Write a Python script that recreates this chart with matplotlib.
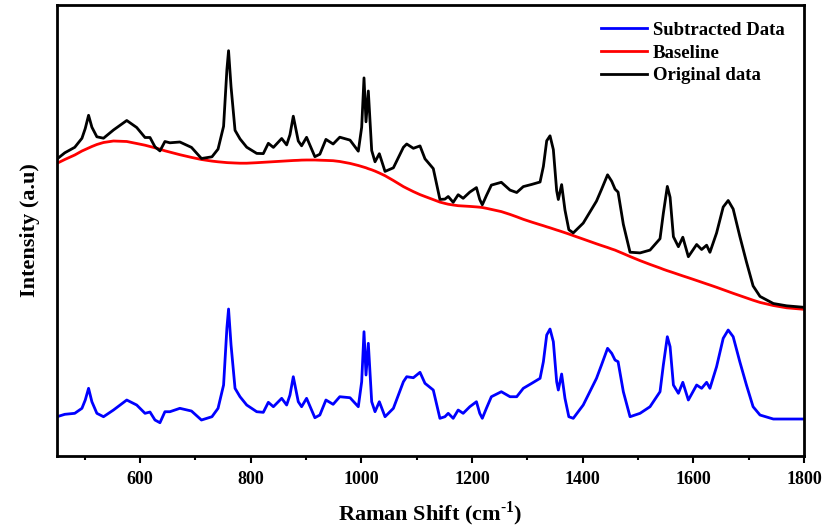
import matplotlib
matplotlib.use("Agg")
import matplotlib.pyplot as plt
from matplotlib.ticker import MultipleLocator
import numpy as np

plt.rcParams['font.family'] = ['Liberation Serif', 'DejaVu Serif']
plt.rcParams['font.weight'] = 'bold'
plt.rcParams['mathtext.fontset'] = 'custom'
plt.rcParams['mathtext.rm'] = 'Liberation Serif:bold'
plt.rcParams['mathtext.bf'] = 'Liberation Serif:bold'

# Raman shift (cm-1) sampled along the spectrum
shift = [450, 464, 482, 495, 501, 507, 513, 522, 534, 552, 576, 594, 609, 618,
         627, 636, 645, 654, 672, 693, 711, 730, 741, 751, 757, 760, 764.5,
         771.7, 780.7, 792.8, 810.9, 822.8, 831.9, 841, 856, 865, 871, 877,
         886, 892, 901, 916, 925, 936, 949, 961, 979.5, 994.5, 1000.6, 1004.8,
         1008.4, 1012.6, 1018.7, 1024.7, 1032.5, 1042.8, 1057.9, 1076, 1082,
         1094, 1106, 1115, 1130, 1142, 1151, 1157, 1166, 1175, 1184, 1196,
         1208, 1214, 1218.6, 1226, 1235, 1253, 1268.7, 1280.8, 1292.7, 1308,
         1323, 1329, 1335, 1341, 1347, 1353, 1356, 1362, 1368, 1375, 1383,
         1401, 1425, 1434, 1445, 1452.5, 1458.5, 1464, 1473.5, 1485.6, 1503.7,
         1521.7, 1539.8, 1545.8, 1553, 1558, 1564, 1573, 1581, 1591, 1606,
         1615, 1624, 1630, 1642, 1654, 1663, 1672, 1684, 1696, 1708, 1720.5,
         1744.6, 1768.7, 1800]

# baseline-subtracted intensity (a.u.)
subtracted = [39.3, 41.7, 42.7, 47.7, 56, 67.7, 54.3, 42.7, 39.3, 46, 56, 51,
              42.7, 44, 36, 33.3, 44.3, 44.3, 47.7, 45, 36, 39.3, 47.7, 71,
              128, 147, 111, 67.7, 59.3, 51, 44.3, 43.7, 53.7, 49.3, 57.7, 51,
              61, 79.3, 54.3, 49.3, 57.7, 38.3, 41, 56, 51.7, 59.3, 58.3, 49.3,
              74.3, 124.3, 81, 112.7, 54.3, 44.3, 54.3, 39.3, 47.7, 74.3, 79.3,
              78.3, 83.7, 72.7, 66, 37.7, 39.3, 42.7, 37.7, 46, 42.7, 49.3,
              54.3, 42.7, 37.7, 47.7, 59.3, 64.3, 59.3, 59.3, 67.7, 72.7, 77.7,
              94.3, 121, 127, 114.3, 74.3, 66, 82, 57.7, 39.3, 37.7, 51, 77.7,
              91, 107.7, 102.7, 96, 94.3, 64.3, 39.3, 42.7, 49.3, 64.3, 91,
              119.3, 109.3, 71, 62.7, 73.7, 56, 71, 67.7, 73.7, 67.7, 89.3,
              117.7, 126, 119.3, 94.3, 71, 49.3, 41, 37, 37, 37]

# fitted baseline (a.u.)
baseline = [292.7, 296.5, 301, 305, 306.5, 308, 309.5, 311.5, 313.5, 315,
            314.5, 312.5, 310.8, 309.5, 308.2, 306.8, 305.2, 303.9, 301.3,
            298.6, 296.5, 294.9, 294.2, 293.7, 293.4, 293.3, 293.2, 293,
            292.8, 292.8, 293.3, 293.7, 294, 294.3, 294.8, 295.1, 295.3,
            295.5, 295.7, 295.9, 296, 296, 295.8, 295.6, 295.3, 294.5, 292.6,
            290.5, 289.5, 288.8, 288.2, 287.3, 286.2, 284.9, 283, 280.3,
            275.5, 269.4, 267.7, 264.4, 261.4, 259.5, 256.4, 253.9, 252.6,
            251.8, 251, 250.3, 250, 249.6, 249.1, 248.8, 248.5, 247.7, 246.6,
            244.4, 241.6, 239.2, 236.7, 233.9, 231.3, 230.3, 229.2, 228.2,
            227.1, 226, 225.5, 224.4, 223.3, 222, 220.4, 216.9, 212.2, 210.5,
            208.5, 207, 205.9, 204.6, 202.4, 199.5, 195.4, 191.6, 188, 186.7,
            185.3, 184.4, 183.3, 181.6, 180.1, 178.3, 175.5, 173.8, 172.1, 171,
            168.7, 166.3, 164.5, 162.7, 160.4, 158.1, 155.8, 153.6, 150.5,
            148.2, 146.7]

# subtracted spectrum is shown shifted down by this offset
sub_offset = 35

x = np.array(shift)
sub = np.array(subtracted)
base = np.array(baseline)
original = sub + base - sub_offset

fig = plt.figure(figsize=(8.23, 5.31), dpi=100)
ax = fig.add_axes([0.0693, 0.1412, 0.9076, 0.8494])

l_sub, = ax.plot(x, sub, color='#0000ff', lw=2.0, label='Subtracted Data')
l_base, = ax.plot(x, base, color='#ff0000', lw=2.0, label='Baseline')
l_orig, = ax.plot(x, original, color='black', lw=2.0, label='Original data')

ax.set_xlim(450, 1800)
ax.set_ylim(0, 451)
ax.xaxis.set_major_locator(MultipleLocator(200))
ax.xaxis.set_minor_locator(MultipleLocator(100))
ax.tick_params(axis='x', which='major', direction='out', length=5, width=1.5,
               labelsize=13, pad=6)
ax.tick_params(axis='x', which='minor', direction='out', length=3, width=1.5)
ax.tick_params(axis='y', left=False, labelleft=False)
for s in ax.spines.values():
    s.set_linewidth(2.0)

ax.set_xlabel(r'Raman Shift (cm$^{\text{-1}}$)', fontsize=16, fontweight='bold',
              labelpad=8)
ax.set_ylabel('Intensity (a.u)', fontsize=16, fontweight='bold', labelpad=12)

ax.legend(handles=[l_sub, l_base, l_orig], loc='upper right',
          bbox_to_anchor=(0.997, 1.0), frameon=False, fontsize=13.5,
          handlelength=2.5, handletextpad=0.3, labelspacing=0.3)

fig.savefig('out.png', dpi=100)
